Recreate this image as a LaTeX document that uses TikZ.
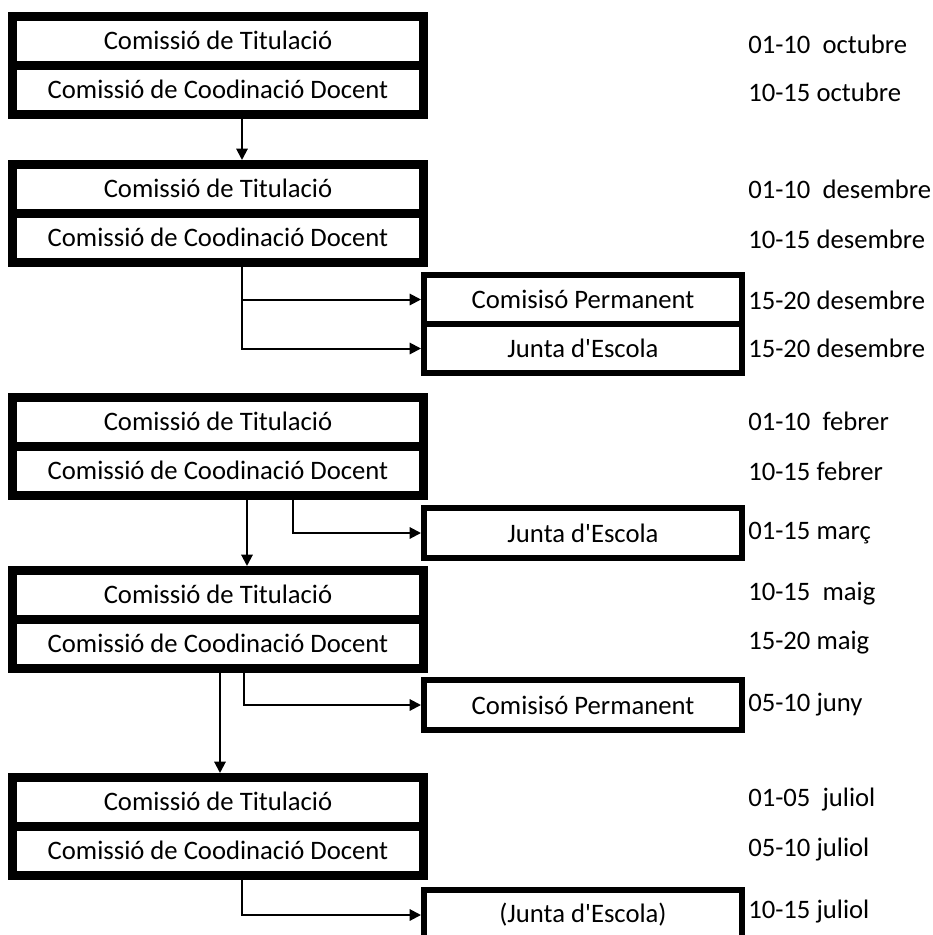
\documentclass[tikz,border=0pt]{standalone}
\usepackage{fontspec}
\setmainfont{Carlito}[Ligatures=TeXOff]
\usetikzlibrary{arrows.meta}
\begin{document}
\begin{tikzpicture}[x=0.75pt,y=-0.75pt,
  every node/.style={font=\fontsize{20}{24}\selectfont, text=black},
  bigrow/.style={draw, line width=6.4pt, minimum width=308.6pt, minimum height=36.75pt, inner sep=0pt, anchor=center},
  smallrow/.style={draw, line width=4.5pt, minimum width=238.5pt, minimum height=37pt, inner sep=0pt, anchor=center},
  datelbl/.style={anchor=west, inner sep=0pt},
  arr/.style={line width=1.5pt, -{Triangle[length=8.5pt,width=8.5pt]}}]
\useasboundingbox (0,0) rectangle (932,935);
\clip (0,0) rectangle (932,935);
\fill[white] (0,0) rectangle (932,935);
% group 1
\node[bigrow] (g1a) at (218,40.75) {Comissió de Titulació};
\node[bigrow] (g1b) at (218,89.75) {Comissió de Coodinació Docent};
% group 2
\node[bigrow] (g2a) at (218,188.75) {Comissió de Titulació};
\node[bigrow] (g2b) at (218,237.75) {Comissió de Coodinació Docent};
% group 3
\node[bigrow] (g3a) at (218,421.75) {Comissió de Titulació};
\node[bigrow] (g3b) at (218,470.75) {Comissió de Coodinació Docent};
% group 4
\node[bigrow] (g4a) at (218,594.75) {Comissió de Titulació};
\node[bigrow] (g4b) at (218,643.75) {Comissió de Coodinació Docent};
% group 5
\node[bigrow] (g5a) at (218,801.75) {Comissió de Titulació};
\node[bigrow] (g5b) at (218,850.75) {Comissió de Coodinació Docent};
% small boxes
\node[smallrow, minimum height=36.75pt] (pa) at (583,299.5) {Comisisó Permanent};
\node[smallrow, minimum height=36.75pt] (pb) at (583,348.5) {Junta d'Escola};
\node[smallrow] (jb) at (583,533) {Junta d'Escola};
\node[smallrow] (cp) at (583,705) {Comisisó Permanent};
\node[smallrow] (jd) at (583,915) {(Junta d'Escola)};
% dates
\node[datelbl] (d1) at (748,44) {01-10\ \ octubre};
\node[datelbl] (d2) at (748,92) {10-15 octubre};
\node[datelbl] (d3) at (748,189) {01-10\ \ desembre};
\node[datelbl] (d4) at (748,239) {10-15 desembre};
\node[datelbl] (d5) at (748,300) {15-20 desembre};
\node[datelbl] (d6) at (748,348) {15-20 desembre};
\node[datelbl] (d7) at (748,421) {01-10\ \ febrer};
\node[datelbl] (d8) at (748,471) {10-15 febrer};
\node[datelbl] (d9) at (748,533) {01-15 març};
\node[datelbl] (d10) at (748,594) {10-15\ \ maig};
\node[datelbl] (d11) at (748,643) {15-20 maig};
\node[datelbl] (d12) at (748,705) {05-10 juny};
\node[datelbl] (d13) at (748,800) {01-05\ \ juliol};
\node[datelbl] (d14) at (748,850) {05-10 juliol};
\node[datelbl] (d15) at (748,912) {10-15 juliol};
% connector x positions
\coordinate (x1) at (242,0);
\coordinate (x2) at (242,0);
\coordinate (x3) at (247,0);
\coordinate (x4) at (293,0);
\coordinate (x5) at (220,0);
\coordinate (x6) at (244,0);
\coordinate (x7) at (242,0);
% connectors
\draw[arr] (g1b.south -| x1) -- (g2a.north -| x1);
\draw[arr] (g2b.south -| x2) |- (pa.west);
\draw[arr] (g2b.south -| x2) |- (pb.west);
\draw[arr] (g3b.south -| x3) -- (g4a.north -| x3);
\draw[arr] (g3b.south -| x4) |- (jb.west);
\draw[arr] (g4b.south -| x5) -- (g5a.north -| x5);
\draw[arr] (g4b.south -| x6) |- (cp.west);
\draw[arr] (g5b.south -| x7) |- (jd.west);
\end{tikzpicture}
\end{document}
